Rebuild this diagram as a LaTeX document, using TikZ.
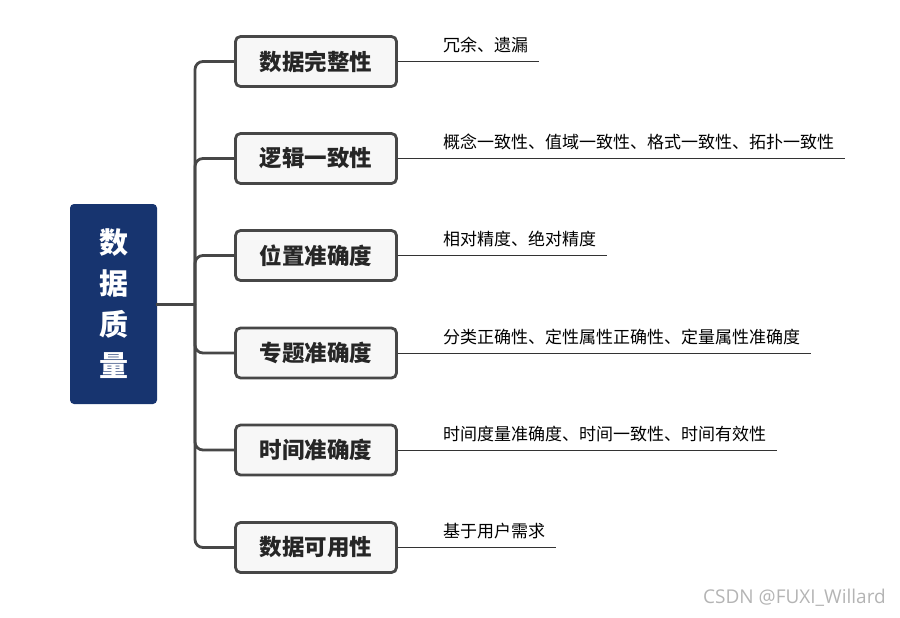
\documentclass[tikz,border=0pt]{standalone}
\usepackage{fontspec}
\setmainfont{Noto Sans CJK SC}
\newfontfamily\wmfont{Open Sans}
\definecolor{rootblue}{HTML}{17346F}
\definecolor{edge}{HTML}{474747}
\definecolor{boxfill}{HTML}{F7F7F7}
\definecolor{textdark}{HTML}{262626}
\definecolor{leafc}{HTML}{333333}
\definecolor{wmgray}{HTML}{B4B4B4}
\begin{document}
\begin{tikzpicture}[x=1pt,y=-1pt,
  root/.style={fill=rootblue, rounded corners=4pt, minimum width=87pt, minimum height=200pt,
    text=white, font=\bfseries\fontsize{29}{41}\selectfont, align=center, inner sep=0pt},
  topic/.style={draw=edge, line width=2.8pt, fill=boxfill, rounded corners=5pt,
    minimum width=161pt, minimum height=50pt, font=\bfseries\fontsize{22.5}{27}\selectfont,
    text=textdark, inner sep=0pt},
  branch/.style={draw=edge, line width=2.8pt, rounded corners=8pt},
  leafline/.style={draw=leafc, line width=1pt},
  leaf/.style={anchor=base west, inner sep=0pt, font=\fontsize{17}{20}\selectfont, text=black},
  wm/.style={anchor=east, inner sep=0pt, font=\wmfont\fontsize{19}{22}\selectfont, text=wmgray}]
\useasboundingbox (0,0) rectangle (900,618);

\node[root] (r) at (113.5,304) {数\\据\\质\\量};
\coordinate (hub) at (195,304);
\coordinate (rootout) at (156,304);

\node[topic] (t1) at (316,61.5) {数据完整性};
\node[topic] (t2) at (316,158.5) {逻辑一致性};
\node[topic] (t3) at (316,255.5) {位置准确度};
\node[topic] (t4) at (316,353) {专题准确度};
\node[topic] (t5) at (316,450) {时间准确度};
\node[topic] (t6) at (316,547.5) {数据可用性};

\foreach \i in {1,...,6}{
  \draw[branch] (hub) |- (t\i.west);
}
\draw[branch, line width=3pt] (rootout) -- (196,304);

\coordinate (e1) at (539,61.5);
\coordinate (e2) at (845,158.5);
\coordinate (e3) at (607,255.5);
\coordinate (e4) at (811,353);
\coordinate (e5) at (777,450);
\coordinate (e6) at (556,547.5);
\foreach \i in {1,...,6}{
  \draw[leafline] (t\i.east) -- (e\i);
}

\node[leaf] (l1) at (443,51.5) {冗余、遗漏};
\node[leaf] (l2) at (443,148.5) {概念一致性、值域一致性、格式一致性、拓扑一致性};
\node[leaf] (l3) at (443,245.5) {相对精度、绝对精度};
\node[leaf] (l4) at (443,343) {分类正确性、定性属性正确性、定量属性准确度};
\node[leaf] (l5) at (443,440) {时间度量准确度、时间一致性、时间有效性};
\node[leaf] (l6) at (443,537.5) {基于用户需求};

\node[wm] (w) at (886,598) {CSDN @FUXI\_Willard};
\end{tikzpicture}
\end{document}
